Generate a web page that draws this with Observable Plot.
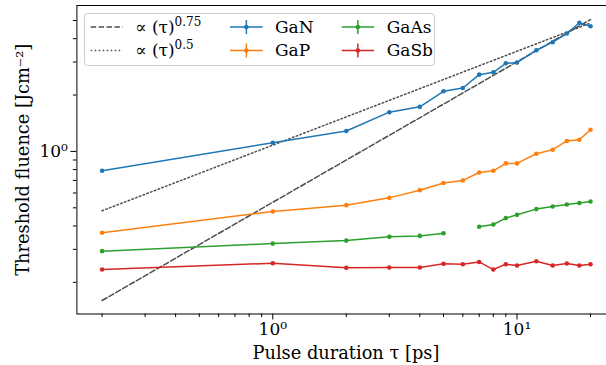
<!DOCTYPE html>
<html><head><meta charset="utf-8">
<script src="https://cdn.jsdelivr.net/npm/d3@7"></script>
<script src="https://cdn.jsdelivr.net/npm/@observablehq/plot@0.6"></script>
<style>
html,body{margin:0;padding:0;background:#fff;overflow:hidden;}
#chart{position:relative;width:606px;height:365px;overflow:hidden;}
#chart svg{display:block;max-width:none !important;}
</style></head><body><div id="chart"></div>
<script>
// Pulse durations (ps)
const tau = [0.2, 1, 2, 3, 4, 5, 6, 7, 8, 9, 10, 12, 14, 16, 18, 20];
// Threshold fluence (J/cm^2)
const GaN  = [0.788, 1.113, 1.285, 1.62, 1.73, 2.094, 2.18, 2.57, 2.645, 2.955, 2.98, 3.47, 3.83, 4.26, 4.86, 4.66];
const GaP  = [0.368, 0.478, 0.5166, 0.565, 0.621, 0.678, 0.700, 0.772, 0.788, 0.863, 0.863, 0.972, 1.021, 1.137, 1.155, 1.306];
const GaAs = [0.2934, 0.322, 0.334, 0.350, 0.354, 0.366, null, 0.396, 0.407, 0.4405, 0.4586, 0.492, 0.508, 0.521, 0.530, 0.540];
const GaSb = [0.234, 0.253, 0.239, 0.240, 0.240, 0.251, 0.250, 0.257, 0.234, 0.250, 0.246, 0.2594, 0.246, 0.252, 0.246, 0.250];
// Guide lines (endpoints)
const guideTau = [0.2, 20];
const guide075 = [0.160, 5.06];
const guide05  = [0.482, 4.85];

const seriesNames = ["GaN", "GaP", "GaAs", "GaSb"];
const seriesVals = [GaN, GaP, GaAs, GaSb];
const colors = ["#1f77b4", "#ff7f0e", "#2ca02c", "#d62728"];

const xMajor = [1, 10];
const xMinor = [0.2, 0.3, 0.4, 0.5, 0.6, 0.7, 0.8, 0.9, 2, 3, 4, 5, 6, 7, 8, 9, 20];
const yMajor = [1];
const yMinor = [0.2, 0.3, 0.4, 0.5, 0.6, 0.7, 0.8, 0.9, 2, 3, 4, 5];
const supLabels = {1: "10\u2070", 10: "10\u00b9"};

const xLabel = "Pulse duration \u03c4 [ps]";
const yLabel = "Threshold fluence [Jcm\u207b\u00b2]";

const rows = [];
seriesNames.forEach((name, k) => {
  tau.forEach((t, i) => rows.push({series: name, tau: t, f: seriesVals[k][i]}));
});
const g75 = guideTau.map((t, i) => ({tau: t, f: guide075[i]}));
const g05 = guideTau.map((t, i) => ({tau: t, f: guide05[i]}));

const W = 620, H = 365;
const font = "'DejaVu Serif', serif";
const guideColor = "#4d4d4d";

const marks = [
  Plot.line(g75, {x: "tau", y: "f", stroke: guideColor, strokeWidth: 1.5, strokeDasharray: "5.5,2.4"}),
  Plot.line(g05, {x: "tau", y: "f", stroke: guideColor, strokeWidth: 1.5, strokeDasharray: "1.5,2.5"}),
];
seriesNames.forEach((name, k) => {
  const d = rows.filter(r => r.series === name);
  marks.push(Plot.line(d, {x: "tau", y: "f", stroke: colors[k], strokeWidth: 1.5}));
  marks.push(Plot.dot(d.filter(r => r.f != null), {x: "tau", y: "f", fill: colors[k], r: 2.3}));
});
marks.push(
  Plot.axisX({ticks: xMinor, tickSize: 3.5, tickFormat: () => "", stroke: "#000"}),
  Plot.axisX({ticks: xMajor, tickSize: 6, tickPadding: 3, tickFormat: d => supLabels[d], fontSize: 17, label: null}),
  Plot.axisY({ticks: yMinor, tickSize: 3.5, tickFormat: () => ""}),
  Plot.axisY({ticks: yMajor, tickSize: 6, tickPadding: 3, tickFormat: d => supLabels[d], fontSize: 17, label: null}),
  Plot.text([xLabel], {frameAnchor: "bottom", dy: 39, fontSize: 17.8, lineAnchor: "middle", textAnchor: "middle", fill: "#000"}),
  Plot.text([yLabel], {frameAnchor: "left", dx: -54, rotate: -90, fontSize: 17.8, lineAnchor: "middle", textAnchor: "middle", fill: "#000"}),
  Plot.frame({stroke: "#000", strokeWidth: 1})
);

const chart = Plot.plot({
  width: W, height: H,
  marginLeft: 76.4, marginRight: W - 614.4, marginTop: 5, marginBottom: 51.5,
  style: {fontFamily: font, background: "#fff", color: "#000", maxWidth: "none"},
  x: {type: "log", domain: [0.1577, 25.17], label: null},
  y: {type: "log", domain: [0.1355, 6.013], label: null},
  marks
});
document.getElementById("chart").appendChild(chart);

// Legend drawn inside the axes (upper left)
const svg = d3.select(chart);
const lg = svg.append("g").attr("font-family", font).attr("font-size", 17)
  .attr("fill", "#000").attr("text-anchor", "start");
lg.append("rect").attr("x", 84.5).attr("y", 13.5).attr("width", 350).attr("height", 52)
  .attr("rx", 3).attr("fill", "#fff").attr("fill-opacity", 0.85).attr("stroke", "#cccccc");
const rowY = [27, 50.5];
const guideEntries = [
  {dash: "5.5,2.4", exp: "0.75"},
  {dash: "1.5,2.5", exp: "0.5"}
];
guideEntries.forEach((e, i) => {
  lg.append("line").attr("x1", 90.7).attr("x2", 122.7).attr("y1", rowY[i]).attr("y2", rowY[i])
    .attr("stroke", guideColor).attr("stroke-width", 1.5).attr("stroke-dasharray", e.dash);
  const t = lg.append("text").attr("x", 135).attr("y", rowY[i]).attr("dy", "0.35em");
  t.append("tspan").text("\u221d (\u03c4)");
  t.append("tspan").attr("dy", "-0.6em").attr("font-size", 12).text(e.exp);
});
const colX = [[230, 262.7, 275], [341.7, 374, 386.7]];
seriesNames.forEach((name, k) => {
  const c = colX[Math.floor(k / 2)];
  const y = rowY[k % 2];
  const cx = (c[0] + c[1]) / 2;
  lg.append("line").attr("x1", c[0]).attr("x2", c[1]).attr("y1", y).attr("y2", y)
    .attr("stroke", colors[k]).attr("stroke-width", 1.5);
  lg.append("line").attr("x1", cx).attr("x2", cx).attr("y1", y - 7).attr("y2", y + 7)
    .attr("stroke", colors[k]).attr("stroke-width", 1.5);
  lg.append("circle").attr("cx", cx).attr("cy", y).attr("r", 2.3).attr("fill", colors[k]);
  lg.append("text").attr("x", c[2]).attr("y", y).attr("dy", "0.35em").text(name);
});
</script></body></html>
